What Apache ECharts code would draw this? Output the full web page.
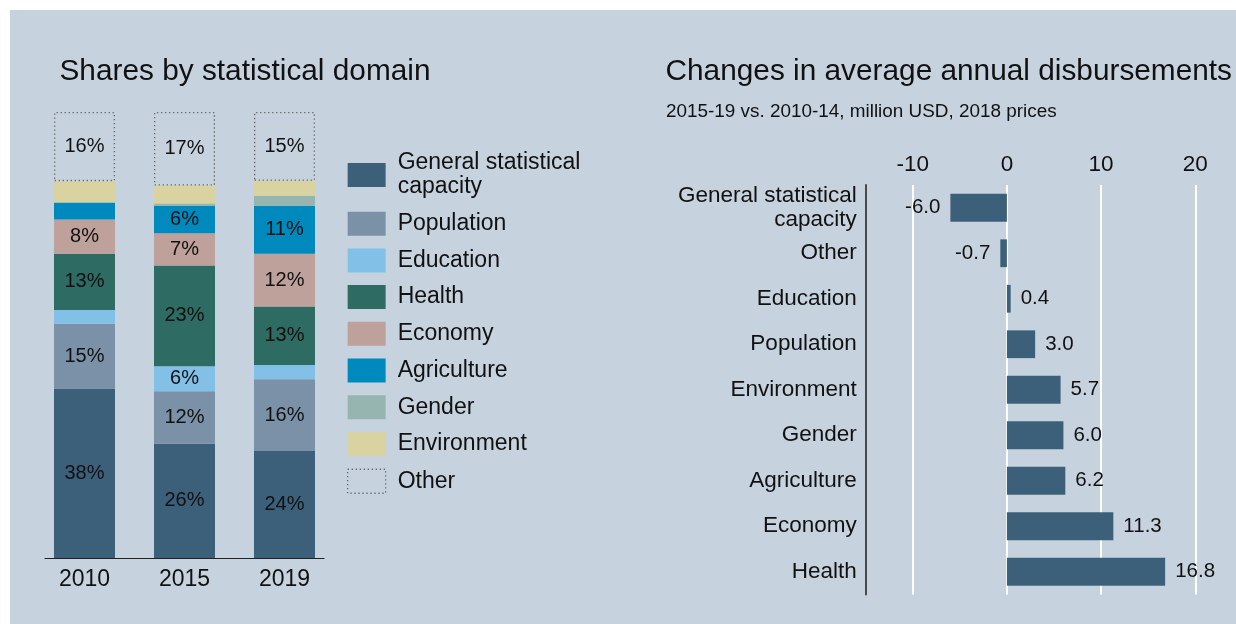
<!DOCTYPE html>
<html>
<head>
<meta charset="utf-8">
<script src="https://cdn.jsdelivr.net/npm/echarts@6/dist/echarts.min.js"></script>
<style>
html,body{margin:0;padding:0;background:#fff;}
#c{width:1236px;height:624px;}
</style>
</head>
<body>
<div id="c"></div>
<script>
// ---- Data: shares by statistical domain (%) ----
const years = ['2010', '2015', '2019'];
const domainNames = ['General statistical\ncapacity', 'Population', 'Education', 'Health', 'Economy', 'Agriculture', 'Gender', 'Environment', 'Other'];
const shareGeneral     = [38.0, 25.6, 24.0];
const sharePopulation  = [14.5, 11.8, 16.1];
const shareEducation   = [3.1, 5.6, 3.2];
const shareHealth      = [12.6, 22.6, 13.1];
const shareEconomy     = [7.7, 7.2, 11.8];
const shareAgriculture = [3.8, 6.2, 10.8];
const shareGender      = [0.0, 0.5, 2.2];
const shareEnvironment = [4.8, 4.0, 3.4];
const shareOther       = [15.5, 16.5, 15.4];

// ---- Data: changes in average annual disbursements ----
const changeCategories = ['General statistical\ncapacity', 'Other', 'Education', 'Population', 'Environment', 'Gender', 'Agriculture', 'Economy', 'Health'];
const changeValues = [-6.0, -0.7, 0.4, 3.0, 5.7, 6.0, 6.2, 11.3, 16.8];

const shareSeriesData = [shareGeneral, sharePopulation, shareEducation, shareHealth, shareEconomy, shareAgriculture, shareGender, shareEnvironment, shareOther];
const colors = ['#3d607a', '#7b91a8', '#82c0e8', '#2e6b63', '#bea19a', '#0089bd', '#97b5b0', '#d8d3a0', 'transparent'];

const FONT = '"Liberation Sans", Arial, sans-serif';
const TXT = '#111';
const otherStyle = {color: 'rgba(0,0,0,0)', borderColor: '#666', borderWidth: 1.3, borderType: [1.3, 2.7]};

const chart = echarts.init(document.getElementById('c'), null, {renderer: 'canvas'});

const shareSeries = domainNames.map((name, i) => {
  const isOther = name === 'Other';
  return {
    name: name,
    type: 'bar',
    stack: 'shares',
    xAxisIndex: 0,
    yAxisIndex: 0,
    barWidth: 61,
    data: shareSeriesData[i],
    itemStyle: isOther ? otherStyle : {color: colors[i]},
    label: {
      show: true,
      position: 'inside',
      color: TXT,
      fontFamily: FONT,
      fontSize: 20,
      formatter: p => (p.value >= 5.5 ? Math.round(p.value) + '%' : '')
    },
    emphasis: {disabled: true}
  };
});

const changeSeries = {
  name: 'change',
  type: 'bar',
  xAxisIndex: 2,
  yAxisIndex: 2,
  barWidth: '61%',
  data: changeValues.map(v => ({
    value: v,
    label: {position: v < 0 ? 'left' : 'right'}
  })),
  itemStyle: {color: '#3d607a'},
  label: {
    show: true,
    distance: 10,
    color: TXT,
    fontFamily: FONT,
    fontSize: 20.5,
    formatter: p => p.value.toFixed(1)
  },
  emphasis: {disabled: true}
};

const option = {
  backgroundColor: '#ffffff',
  animation: false,
  textStyle: {fontFamily: FONT},
  graphic: [{
    type: 'rect',
    z: -10,
    shape: {x: 10, y: 10, width: 1226, height: 614},
    style: {fill: '#c6d3df'}
  }],
  title: [
    {text: 'Shares by statistical domain', left: 59.5, top: 57, padding: 0,
     textStyle: {fontFamily: FONT, fontSize: 29.8, fontWeight: 'normal', color: TXT, lineHeight: 29.8}},
    {text: 'Changes in average annual disbursements', left: 665.5, top: 57, padding: 0,
     textStyle: {fontFamily: FONT, fontSize: 29.8, fontWeight: 'normal', color: TXT, lineHeight: 29.8}},
    {text: '2015-19 vs. 2010-14, million USD, 2018 prices', left: 666, top: 102, padding: 0,
     textStyle: {fontFamily: FONT, fontSize: 18.9, fontWeight: 'normal', color: TXT, lineHeight: 19}}
  ],
  legend: {
    orient: 'vertical',
    left: 347,
    top: 151,
    padding: 0,
    icon: 'rect',
    itemWidth: 38,
    itemHeight: 24,
    itemGap: 12.7,
    selectedMode: false,
    data: domainNames.map(n => n === 'Other'
      ? {name: n, itemStyle: otherStyle}
      : {name: n}),
    textStyle: {fontFamily: FONT, fontSize: 23, lineHeight: 24, color: TXT, padding: [0, 0, 0, 7]}
  },
  grid: [
    {left: 34.5, top: 112, width: 300, height: 446},
    {left: 45, top: 112, width: 279, height: 446},
    {left: 912.7, top: 185, width: 282.6, height: 409.5}
  ],
  xAxis: [
    {type: 'category', gridIndex: 0, data: years,
     axisLine: {show: false}, axisTick: {show: false},
     axisLabel: {color: TXT, fontFamily: FONT, fontSize: 23, margin: 10}},
    {type: 'category', gridIndex: 1, data: years,
     axisLine: {show: true, lineStyle: {color: '#222', width: 1.2}},
     axisTick: {show: false}, axisLabel: {show: false}},
    {type: 'value', gridIndex: 2, position: 'top', min: -10, max: 20, interval: 10,
     axisLine: {show: false}, axisTick: {show: false},
     axisLabel: {color: TXT, fontFamily: FONT, fontSize: 22.5, margin: 9},
     splitLine: {show: true, lineStyle: {color: '#ffffff', width: 2}}}
  ],
  yAxis: [
    {type: 'value', gridIndex: 0, min: 0, max: 100, show: false},
    {type: 'value', gridIndex: 1, min: 0, max: 1, show: false},
    {type: 'category', gridIndex: 2, data: changeCategories, inverse: true, offset: 47,
     position: 'left',
     axisLine: {show: true, onZero: false, lineStyle: {color: '#4a4a4a', width: 2}},
     axisTick: {show: false},
     axisLabel: {color: TXT, fontFamily: FONT, fontSize: 22.5, lineHeight: 24, margin: 9, align: 'right'}}
  ],
  series: shareSeries.concat([changeSeries])
};

chart.setOption(option);
</script>
</body>
</html>
